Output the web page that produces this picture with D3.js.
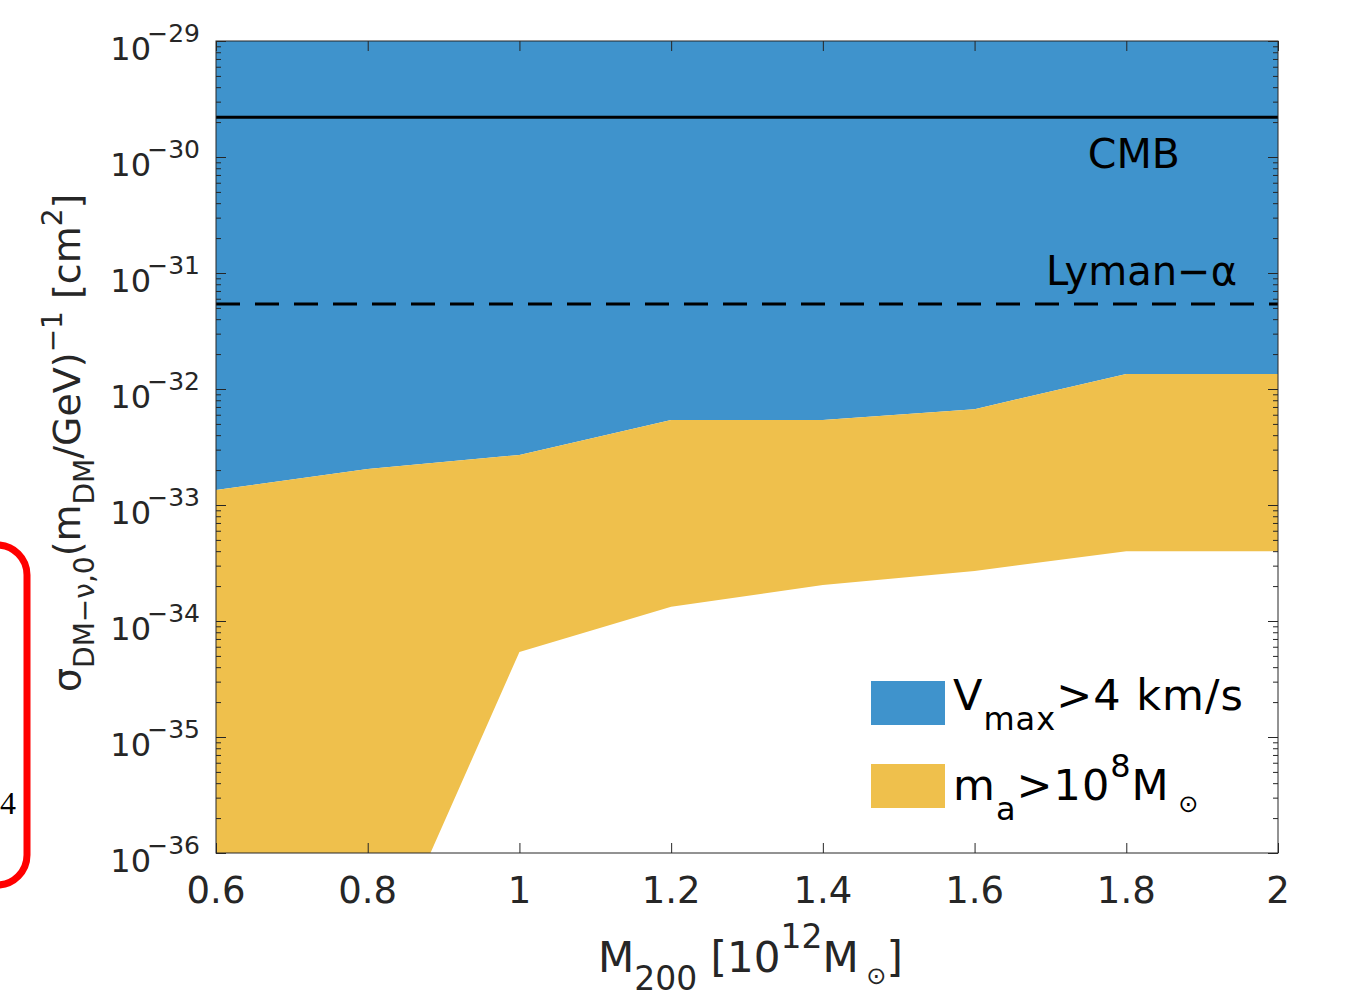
<!DOCTYPE html>
<html>
<head>
<meta charset="utf-8">
<script src="https://cdn.jsdelivr.net/npm/d3@7"></script>
<style>
  html, body { margin: 0; padding: 0; background: #fff; }
  svg { display: block; }
  text { font-family: "DejaVu Sans", "Open Sans", sans-serif; }
</style>
</head>
<body>
<svg id="chart" width="1366" height="1000"></svg>
<script>
// ---------- data ----------
const massX = [0.6, 0.8, 1.0, 1.2, 1.4, 1.6, 1.8, 2.0];          // M200 [1e12 Msun]
const vmaxBound = [1.35e-33, 2.04e-33, 2.7e-33, 5.4e-33, 5.4e-33, 6.7e-33, 1.35e-32, 1.35e-32]; // Vmax>4 km/s bound
const maBound   = [1e-40, 6e-38, 5.4e-35, 1.33e-34, 2.04e-34, 2.7e-34, 4.0e-34, 4.0e-34];        // m_a>1e8 Msun bound
const regionTop = 1e-29;
const cmbValue = 2.2e-30;
const lymanValue = 5.4e-32;
const xTicks = [0.6, 0.8, 1, 1.2, 1.4, 1.6, 1.8, 2];
const xTickLabels = ["0.6", "0.8", "1", "1.2", "1.4", "1.6", "1.8", "2"];
const yExponents = [-29, -30, -31, -32, -33, -34, -35, -36];

const blue = "#3f93cc";
const yellow = "#efc04c";
const axisColor = "#262626";

// ---------- layout ----------
const svg = d3.select("#chart");
const L = 216, R = 1278, T = 41, B = 853;
const x = d3.scaleLinear().domain([0.6, 2]).range([L, R]);
const y = d3.scaleLog().domain([1e-36, 1e-29]).range([B, T]);

const defs = svg.append("defs");
defs.append("clipPath").attr("id", "plotclip")
  .append("rect").attr("x", L).attr("y", T).attr("width", R - L).attr("height", B - T);

const plot = svg.append("g").attr("clip-path", "url(#plotclip)");

const rows = massX.map((m, i) => ({ m, v: vmaxBound[i], a: maBound[i] }));

// blue region
plot.append("path").datum(rows)
  .attr("fill", blue)
  .attr("d", d3.area().x(d => x(d.m)).y0(d => y(d.v)).y1(() => y(regionTop)));
// yellow region
plot.append("path").datum(rows)
  .attr("fill", yellow)
  .attr("d", d3.area().x(d => x(d.m)).y0(d => y(d.a)).y1(d => y(d.v)));

// CMB line & Lyman line
plot.append("line")
  .attr("x1", L).attr("x2", R).attr("y1", y(cmbValue)).attr("y2", y(cmbValue))
  .attr("stroke", "#000").attr("stroke-width", 3);
plot.append("line")
  .attr("x1", L).attr("x2", R).attr("y1", y(lymanValue)).attr("y2", y(lymanValue))
  .attr("stroke", "#000").attr("stroke-width", 3).attr("stroke-dasharray", "24 15");

svg.append("text").attr("x", 1180).attr("y", 168).attr("text-anchor", "end")
  .attr("font-size", 41).attr("fill", "#000").text("CMB");
svg.append("text").attr("x", 1237).attr("y", 285).attr("text-anchor", "end")
  .attr("font-size", 40).attr("fill", "#000").text("Lyman−α");

// ---------- axes ----------
const minorTicks = [];
for (let e = -36; e < -29; e++) for (let k = 2; k <= 9; k++) minorTicks.push(k * Math.pow(10, e));
const majorY = yExponents.map(e => Math.pow(10, e));

function styleAxis(g) {
  g.select(".domain").remove();
  g.selectAll(".tick line").attr("stroke", axisColor).attr("stroke-width", 1);
  g.selectAll(".tick text").remove();
}
svg.append("g").attr("transform", `translate(${L},0)`)
  .call(d3.axisLeft(y).tickValues(majorY).tickSize(-10)).call(styleAxis);
svg.append("g").attr("transform", `translate(${L},0)`)
  .call(d3.axisLeft(y).tickValues(minorTicks).tickSize(-5)).call(styleAxis);
svg.append("g").attr("transform", `translate(${R},0)`)
  .call(d3.axisRight(y).tickValues(majorY).tickSize(-10)).call(styleAxis);
svg.append("g").attr("transform", `translate(${R},0)`)
  .call(d3.axisRight(y).tickValues(minorTicks).tickSize(-5)).call(styleAxis);
svg.append("g").attr("transform", `translate(0,${B})`)
  .call(d3.axisBottom(x).tickValues(xTicks).tickSize(-10)).call(styleAxis);
svg.append("g").attr("transform", `translate(0,${T})`)
  .call(d3.axisTop(x).tickValues(xTicks).tickSize(-10)).call(styleAxis);

// frame
svg.append("rect").attr("x", L).attr("y", T).attr("width", R - L).attr("height", B - T)
  .attr("fill", "none").attr("stroke", axisColor).attr("stroke-width", 1);

// x tick labels
svg.append("g").selectAll("text").data(xTicks).join("text")
  .attr("x", d => x(d)).attr("y", B + 50)
  .attr("text-anchor", "middle").attr("font-size", 37).attr("fill", axisColor)
  .text((d, i) => xTickLabels[i]);

// y tick labels 10^e
const yl = svg.append("g").selectAll("g").data(yExponents).join("g");
yl.append("text")
  .attr("x", 200).attr("y", e => y(Math.pow(10, e)) + 1)
  .attr("text-anchor", "end").attr("font-size", 25).attr("fill", axisColor)
  .text(e => "−" + Math.abs(e));
yl.append("text")
  .attr("x", 151).attr("y", e => y(Math.pow(10, e)) + 19)
  .attr("text-anchor", "end").attr("font-size", 32).attr("fill", axisColor)
  .text("10");

// x axis title
const xt = svg.append("text").attr("x", 598).attr("y", 972)
  .attr("font-size", 42).attr("fill", axisColor);
xt.append("tspan").text("M");
xt.append("tspan").attr("font-size", 33).attr("dy", 18).text("200");
xt.append("tspan").attr("dy", -18).text(" [10");
xt.append("tspan").attr("font-size", 33).attr("dy", -24).text("12");
xt.append("tspan").attr("dy", 24).text("M");
xt.append("tspan").attr("font-size", 24).attr("dy", 12).text("  ⊙");
xt.append("tspan").attr("dy", -12).text("]");

// y axis title (rotated)
const yt = svg.append("text")
  .attr("transform", "translate(80,692) rotate(-90)")
  .attr("font-size", 38).attr("fill", axisColor);
yt.append("tspan").text("σ");
yt.append("tspan").attr("font-size", 28).attr("dy", 14).text("DM−ν,0");
yt.append("tspan").attr("dy", -14).text("(m");
yt.append("tspan").attr("font-size", 28).attr("dy", 14).text("DM");
yt.append("tspan").attr("dy", -14).text("/GeV)");
yt.append("tspan").attr("font-size", 28).attr("dy", -18).text("−1");
yt.append("tspan").attr("dy", 18).text(" [cm");
yt.append("tspan").attr("font-size", 28).attr("dy", -18).text("2");
yt.append("tspan").attr("dy", 18).text("]");

// ---------- legend ----------
const legendItems = [
  { color: blue, y0: 681 },
  { color: yellow, y0: 764 }
];
svg.append("g").selectAll("rect").data(legendItems).join("rect")
  .attr("x", 871).attr("y", d => d.y0).attr("width", 74).attr("height", 44)
  .attr("fill", d => d.color);

const lt1 = svg.append("text").attr("x", 953).attr("y", 710).attr("font-size", 43)
  .attr("letter-spacing", 1).attr("fill", "#000");
lt1.append("tspan").text("V");
lt1.append("tspan").attr("font-size", 32).attr("dy", 20).text("max");
lt1.append("tspan").attr("dy", -20).text(">4 km/s");

const lt2 = svg.append("text").attr("x", 953).attr("y", 800).attr("font-size", 43)
  .attr("letter-spacing", 1).attr("fill", "#000");
lt2.append("tspan").text("m");
lt2.append("tspan").attr("font-size", 32).attr("dy", 20).text("a");
lt2.append("tspan").attr("dy", -20).text(">10");
lt2.append("tspan").attr("font-size", 32).attr("dy", -23).text("8");
lt2.append("tspan").attr("dy", 23).text("M");
lt2.append("tspan").attr("font-size", 24).attr("dy", 12).text("  ⊙");

// ---------- cropped red annotation at left edge ----------
svg.append("rect").attr("x", -60).attr("y", 545).attr("width", 87).attr("height", 340)
  .attr("rx", 30).attr("ry", 30)
  .attr("fill", "none").attr("stroke", "#ff0000").attr("stroke-width", 7);
svg.append("text").attr("x", 0).attr("y", 814)
  .style("font-family", "'Liberation Serif', 'DejaVu Serif', serif").style("font-size", "32px")
  .attr("fill", "#000").text("4");
</script>
</body>
</html>
